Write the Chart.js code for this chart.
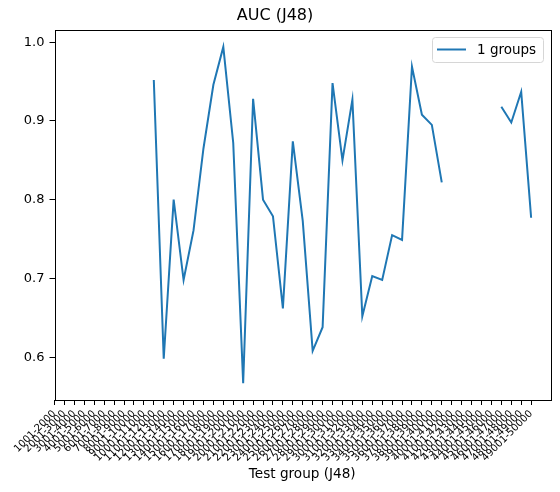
<!DOCTYPE html>
<html>
<head>
<meta charset="utf-8">
<script src="https://cdn.jsdelivr.net/npm/chart.js@4.4.0/dist/chart.umd.min.js"></script>
<style>
  html, body { margin: 0; padding: 0; background: #fff; }
  #wrap { width: 560px; height: 492px; }
</style>
</head>
<body>
<div id="wrap"><canvas id="aucChart" width="560" height="492"></canvas></div>
<script>
  /**************Chart data**************/
  let groupLabels = [
    "1001-2000", "2001-3000", "3001-4000", "4001-5000", "5001-6000", "6001-7000", "7001-8000",
    "8001-9000", "9001-10000", "10001-11000", "11001-12000", "12001-13000", "13001-14000",
    "14001-15000", "15001-16000", "16001-17000", "17001-18000", "18001-19000", "19001-20000",
    "20001-21000", "21001-22000", "22001-23000", "23001-24000", "24001-25000", "25001-26000",
    "26001-27000", "27001-28000", "28001-29000", "29001-30000", "30001-31000", "31001-32000",
    "32001-33000", "33001-34000", "34001-35000", "35001-36000", "36001-37000", "37001-38000",
    "38001-39000", "39001-40000", "40001-41000", "41001-42000", "42001-43000", "43001-44000",
    "44001-45000", "45001-46000", "46001-47000", "47001-48000", "48001-49000", "49001-50000"
  ];
  let aucValues = [
    null, null, null, null, null, null, null, null, null, null,
    0.952, 0.598, 0.800, 0.698, 0.761, 0.865, 0.946, 0.994, 0.872, 0.567,
    0.928, 0.800, 0.779, 0.662, 0.874, 0.773, 0.608, 0.638, 0.948, 0.850,
    0.927, 0.652, 0.703, 0.698, 0.755, 0.749, 0.969, 0.908, 0.895, 0.822,
    null, null, null, null, null, 0.918, 0.898, 0.937, 0.777
  ];
  let yTicks = [0.6, 0.7, 0.8, 0.9, 1.0];
  let seriesName = "1 groups";

  let lineColor = "#1f77b4";
  let fontName = "'DejaVu Sans', sans-serif";

  /**************Frame and legend box (matplotlib style)**************/
  const frameLegend = {
    id: 'frameLegend',
    afterDraw(chart) {
      const c = chart.ctx;
      const a = chart.chartArea;
      c.save();
      c.strokeStyle = '#000';
      c.lineWidth = 1;
      c.strokeRect(Math.round(a.left) + 0.5, Math.round(a.top) + 0.5,
                   Math.round(a.right - a.left), Math.round(a.bottom - a.top));

      // legend
      let bx = 432.5, by = 37.5, bw = 111, bh = 25, r = 3;
      c.beginPath();
      c.moveTo(bx + r, by);
      c.arcTo(bx + bw, by, bx + bw, by + bh, r);
      c.arcTo(bx + bw, by + bh, bx, by + bh, r);
      c.arcTo(bx, by + bh, bx, by, r);
      c.arcTo(bx, by, bx + bw, by, r);
      c.closePath();
      c.fillStyle = 'rgba(255,255,255,0.8)';
      c.fill();
      c.strokeStyle = '#d6d6d6';
      c.stroke();

      c.beginPath();
      c.moveTo(437, 49.5);
      c.lineTo(466, 49.5);
      c.strokeStyle = lineColor;
      c.lineWidth = 2;
      c.stroke();

      c.fillStyle = '#000';
      c.font = '13.5px ' + fontName;
      c.textBaseline = 'middle';
      c.textAlign = 'left';
      c.fillText(chart.data.datasets[0].label, 477, 50);
      c.restore();
    }
  };

  let points = aucValues.map((v, i) => ({ x: i, y: v }));
  let yMin = 0.5456, yMax = 1.0155;

  var ctx = document.getElementById('aucChart').getContext('2d');
  var aucChart = new Chart(ctx, {
    type: 'line',
    data: {
      datasets: [{
        label: seriesName,
        data: points,
        borderColor: lineColor,
        borderWidth: 2,
        pointRadius: 0,
        tension: 0,
        spanGaps: false,
        fill: false
      }]
    },
    options: {
      responsive: false,
      animation: false,
      devicePixelRatio: 1,
      layout: { padding: { left: 0, right: 10, top: 0, bottom: 0 } },
      plugins: {
        legend: { display: false },
        tooltip: { enabled: false },
        title: {
          display: true,
          text: 'AUC (J48)',
          color: '#000',
          font: { family: fontName, size: 16, weight: 'normal' },
          padding: { top: 6, bottom: 4.8 }
        }
      },
      scales: {
        x: {
          type: 'linear',
          min: 0,
          max: 49.9,
          afterBuildTicks: (scale) => { scale.ticks = groupLabels.map((l, i) => ({ value: i })); },
          afterFit: (scale) => { scale.height = 92; },
          grid: { display: true, drawOnChartArea: false, drawTicks: true, tickLength: 5, tickColor: '#000' },
          border: { display: false },
          ticks: {
            autoSkip: false,
            minRotation: 45,
            maxRotation: 45,
            padding: 3,
            color: '#000',
            font: { family: fontName, size: 10 },
            callback: (v) => groupLabels[v]
          },
          title: {
            display: true,
            text: 'Test group (J48)',
            color: '#000',
            font: { family: fontName, size: 13.6 },
            padding: { top: 2, bottom: 9.3 }
          }
        },
        y: {
          min: yMin,
          max: yMax,
          afterBuildTicks: (scale) => { scale.ticks = yTicks.map(v => ({ value: v })); },
          afterFit: (scale) => { scale.width = 54.5; },
          grid: { display: true, drawOnChartArea: false, drawTicks: true, tickLength: 5, tickColor: '#000' },
          border: { display: false },
          ticks: {
            padding: 5,
            color: '#000',
            font: { family: fontName, size: 13 },
            callback: (v) => v.toFixed(1)
          }
        }
      }
    },
    plugins: [frameLegend]
  });
</script>
</body>
</html>
